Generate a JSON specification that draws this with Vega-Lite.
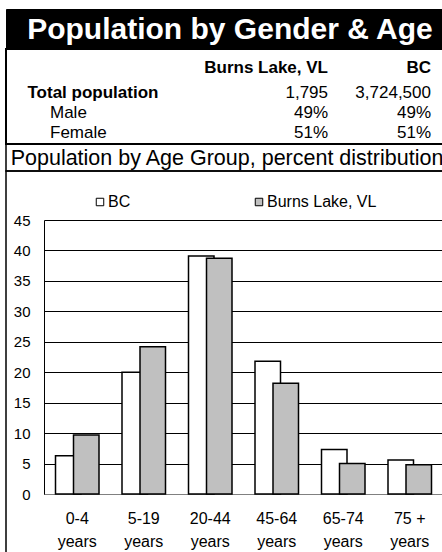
{
  "$schema": "https://vega.github.io/schema/vega-lite/v6.json",
  "padding": {"left": 5, "top": 8, "right": 0, "bottom": 0},
  "bounds": "flush",
  "spacing": 0,
  "config": {
    "font": "Liberation Sans",
    "view": {"stroke": null},
    "text": {"color": "black"}
  },
  "datasets": {
    "summary": [
      {"measure": "Total population", "place": "Burns Lake, VL", "value": 1795},
      {"measure": "Total population", "place": "BC", "value": 3724500},
      {"measure": "Male", "place": "Burns Lake, VL", "value": 0.49},
      {"measure": "Male", "place": "BC", "value": 0.49},
      {"measure": "Female", "place": "Burns Lake, VL", "value": 0.51},
      {"measure": "Female", "place": "BC", "value": 0.51}
    ],
    "ages": [
      {"age": "0-4 years", "series": "BC", "pct": 6.3},
      {"age": "5-19 years", "series": "BC", "pct": 20.0},
      {"age": "20-44 years", "series": "BC", "pct": 39.1},
      {"age": "45-64 years", "series": "BC", "pct": 21.8},
      {"age": "65-74 years", "series": "BC", "pct": 7.3},
      {"age": "75 + years", "series": "BC", "pct": 5.6},
      {"age": "0-4 years", "series": "Burns Lake, VL", "pct": 9.7},
      {"age": "5-19 years", "series": "Burns Lake, VL", "pct": 24.2},
      {"age": "20-44 years", "series": "Burns Lake, VL", "pct": 38.7},
      {"age": "45-64 years", "series": "Burns Lake, VL", "pct": 18.2},
      {"age": "65-74 years", "series": "Burns Lake, VL", "pct": 5.0},
      {"age": "75 + years", "series": "Burns Lake, VL", "pct": 4.8}
    ]
  },
  "vconcat": [
    {
      "width": 440,
      "height": 40,
      "view": {"fill": "black", "stroke": "black"},
      "data": {"values": [{"title": "Population by Gender & Age"}]},
      "mark": {"type": "text", "color": "white", "fontSize": 30, "fontWeight": "bold", "align": "center", "baseline": "middle", "dx": 4, "dy": 1},
      "encoding": {"text": {"field": "title", "type": "nominal"}}
    },
    {
      "width": 440,
      "height": 95,
      "view": {"stroke": "black", "strokeWidth": 2},
      "data": {"name": "summary"},
      "resolve": {"scale": {"x": "independent"}},
      "encoding": {
        "y": {"field": "measure", "type": "nominal", "scale": {"type": "point", "domain": ["header", "Total population", "Male", "Female"], "range": [28.7, 88.7], "padding": 0}, "axis": null}
      },
      "layer": [
        {
          "transform": [{"filter": "datum.measure === 'Total population'"}],
          "mark": {"type": "text", "align": "right", "baseline": "alphabetic", "fontSize": 17, "fontWeight": "bold", "dy": -4.4},
          "encoding": {
            "x": {"field": "place", "type": "nominal", "scale": {"type": "point", "domain": ["Burns Lake, VL", "BC"], "range": [322, 425], "padding": 0}, "axis": null},
            "y": {"datum": "header", "type": "nominal", "axis": null},
            "text": {"field": "place", "type": "nominal"}
          }
        },
        {
          "transform": [{"filter": "datum.measure === 'Total population' && datum.place === 'BC'"}],
          "mark": {"type": "text", "align": "left", "baseline": "alphabetic", "fontSize": 17, "fontWeight": "bold"},
          "encoding": {
            "x": {"datum": "main", "type": "nominal", "scale": {"type": "point", "domain": ["main", "sub"], "range": [21.5, 44], "padding": 0}, "axis": null},
            "text": {"field": "measure", "type": "nominal"}
          }
        },
        {
          "transform": [{"filter": "datum.measure !== 'Total population' && datum.place === 'BC'"}],
          "mark": {"type": "text", "align": "left", "baseline": "alphabetic", "fontSize": 17},
          "encoding": {
            "x": {"datum": "sub", "type": "nominal", "scale": {"type": "point", "domain": ["main", "sub"], "range": [21.5, 44], "padding": 0}, "axis": null},
            "text": {"field": "measure", "type": "nominal"}
          }
        },
        {
          "transform": [{"filter": "datum.measure === 'Total population'"}],
          "mark": {"type": "text", "align": "right", "baseline": "alphabetic", "fontSize": 17},
          "encoding": {
            "x": {"field": "place", "type": "nominal", "scale": {"type": "point", "domain": ["Burns Lake, VL", "BC"], "range": [322, 425], "padding": 0}, "axis": null},
            "text": {"field": "value", "type": "quantitative", "format": ","}
          }
        },
        {
          "transform": [{"filter": "datum.measure !== 'Total population'"}],
          "mark": {"type": "text", "align": "right", "baseline": "alphabetic", "fontSize": 17},
          "encoding": {
            "x": {"field": "place", "type": "nominal", "scale": {"type": "point", "domain": ["Burns Lake, VL", "BC"], "range": [322, 425], "padding": 0}, "axis": null},
            "text": {"field": "value", "type": "quantitative", "format": ".0%"}
          }
        }
      ]
    },
    {
      "width": 440,
      "height": 27,
      "view": {"stroke": "black", "strokeWidth": 1.5},
      "data": {"values": [{"subtitle": "Population by Age Group, percent distribution"}]},
      "mark": {"type": "text", "fontSize": 21.5, "align": "center", "baseline": "middle", "dx": 1, "dy": 1.5},
      "encoding": {"text": {"field": "subtitle", "type": "nominal"}}
    },
    {
      "width": 440,
      "height": 382,
      "view": {"stroke": "black", "strokeWidth": 1.5},
      "data": {"name": "ages"},
      "encoding": {
        "x": {
          "field": "age", "type": "nominal",
          "scale": {"domain": ["0-4 years", "5-19 years", "20-44 years", "45-64 years", "65-74 years", "75 + years"], "range": [38, 437], "paddingInner": 0, "paddingOuter": 0},
          "axis": {
            "offset": -59, "domainColor": "#808080", "domainWidth": 1, "ticks": false, "tickSize": 0,
            "labelPadding": 16, "labelFontSize": 16, "labelColor": "black", "labelAngle": 0, "labelLineHeight": 23,
            "labelOverlap": false, "labelBound": false,
            "labelExpr": "[replace(datum.label, ' years', ''), 'years']",
            "title": null, "grid": false
          }
        },
        "y": {
          "field": "pct", "type": "quantitative",
          "scale": {"domain": [0, 45], "range": [323, 49], "nice": false, "zero": true},
          "axis": {
            "values": [0, 5, 10, 15, 20, 25, 30, 35, 40, 45],
            "offset": -38, "domain": true, "domainColor": "black", "domainWidth": 1,
            "ticks": false, "tickSize": 0, "labelPadding": 14, "labelFontSize": 15, "labelColor": "black",
            "grid": true, "gridColor": "black", "gridWidth": 1, "gridOpacity": 1, "title": null
          }
        },
        "color": {
          "field": "series", "type": "nominal",
          "scale": {"domain": ["BC", "Burns Lake, VL"], "range": ["#ffffff", "#c0c0c0"]},
          "legend": {
            "orient": "none", "legendX": 86, "legendY": 185, "direction": "horizontal", "title": null,
            "symbolType": "square", "symbolSize": 56, "symbolStrokeColor": "black", "symbolStrokeWidth": 1,
            "labelFontSize": 16, "labelColor": "black", "columnPadding": 120, "labelOffset": 0
          }
        }
      },
      "layer": [
        {
          "transform": [{"filter": "datum.series === 'BC'"}],
          "mark": {"type": "bar", "width": 25.5, "xOffset": -9, "stroke": "black", "strokeWidth": 1.5, "opacity": 1}
        },
        {
          "transform": [{"filter": "datum.series === 'Burns Lake, VL'"}],
          "mark": {"type": "bar", "width": 25.5, "xOffset": 9, "stroke": "black", "strokeWidth": 1.5, "opacity": 1}
        }
      ]
    }
  ]
}
